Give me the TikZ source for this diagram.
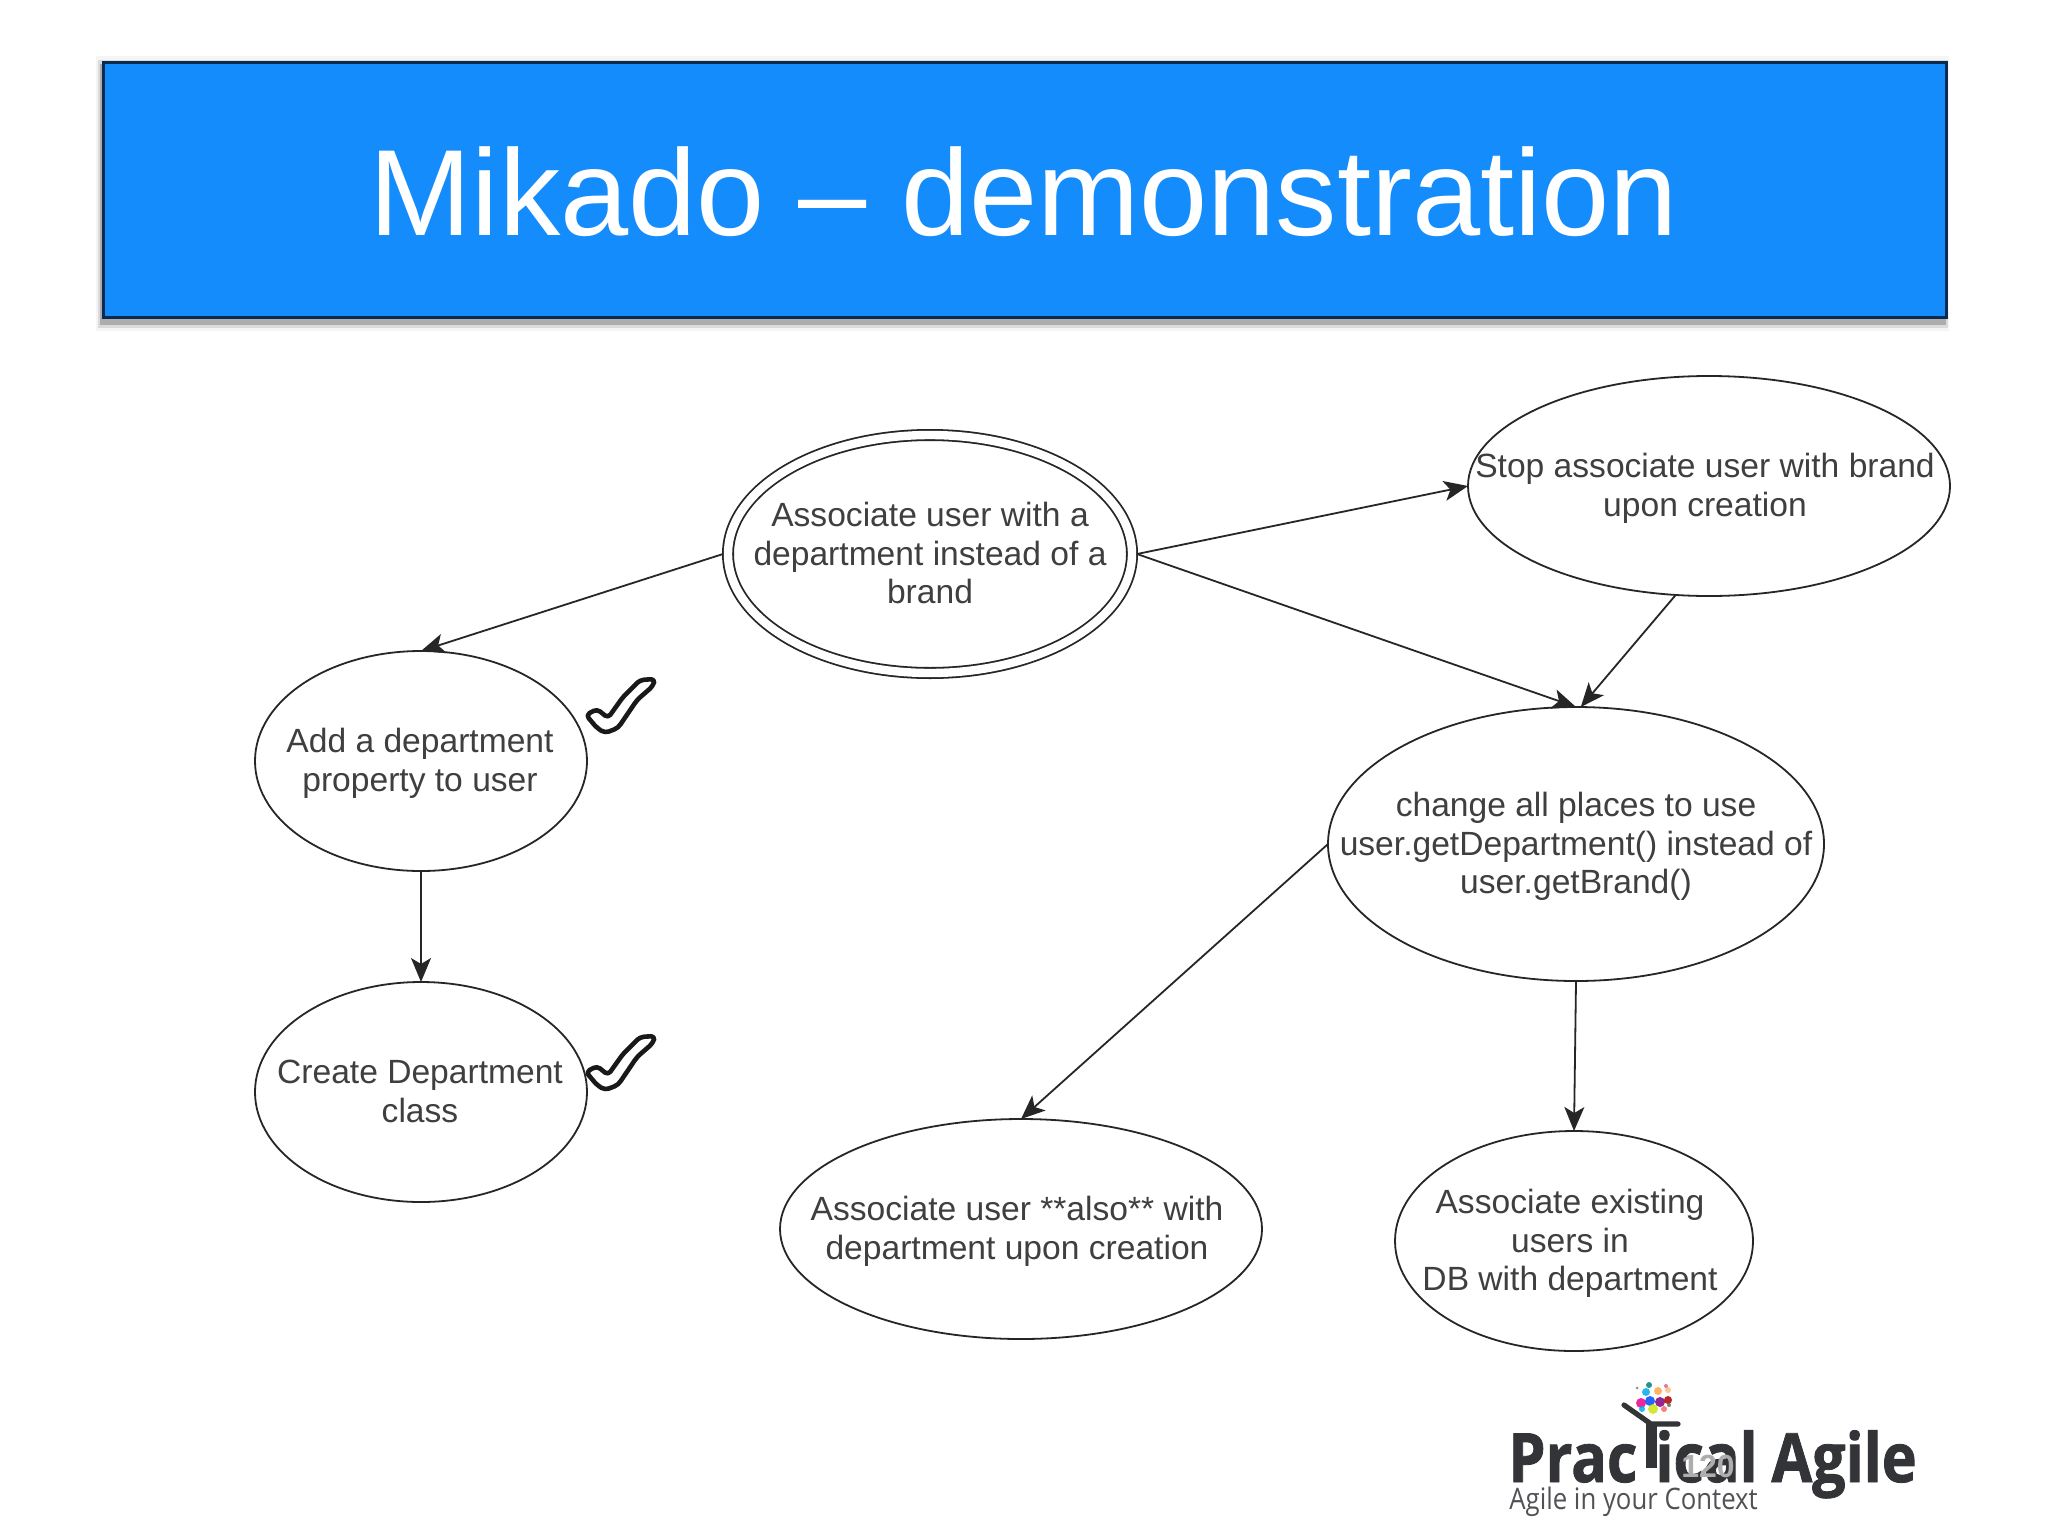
\documentclass[tikz,border=0pt]{standalone}
\usepackage{fontspec}
\setmainfont{Liberation Sans}
\newfontfamily\logofont[FakeStretch=0.87]{Open Sans}
\newfontfamily\logoheavy[FakeStretch=0.87,FakeBold=1.2]{Open Sans}
\usetikzlibrary{arrows.meta,shapes.geometric}
\newcommand{\elltext}[2][0pt]{\makebox[0pt]{\kern#1\smash{\raisebox{-6pt}{\begin{tabular}[c]{@{}c@{}}#2\end{tabular}}}}}
\newcommand{\chk}[1]{\draw[chkmark,shift={(#1)}] (586,715) -- (597,709) -- (608,718) -- (623,697) -- (640,680) -- (655,679) -- (653,686) -- (637,700) -- (618,728) -- (605,733) -- (597,728) -- cycle;}
\definecolor{titleblue}{HTML}{148CFB}
\definecolor{titleedge}{HTML}{0B2A4F}
\definecolor{inktext}{HTML}{3F3F3F}
\definecolor{logoink}{HTML}{333438}
\tikzset{
  x=0.5pt,y=-0.5pt,
  ell/.style={draw=black!85,shape=ellipse,line width=0.9pt,inner sep=0pt,outer sep=0pt,text=inktext,font=\fontsize{16.8}{19.3}\selectfont},
  link/.style={draw=black!85,line width=0.9pt,-{Stealth[length=12pt,width=10pt,inset=3pt]}},
  chkmark/.style={draw=black!90,line width=2.3pt,fill=white,line join=round,rounded corners=2pt},
  logobig/.style={anchor=base west,inner sep=0pt,text=logoink,font=\logoheavy\bfseries\fontsize{34}{34}\selectfont},
}
\begin{document}
\begin{tikzpicture}
\useasboundingbox (0,0) rectangle (2048,1536);
\fill[white] (0,0) rectangle (2048,1536);
% title shadow
\fill[black!4] (96,56) rectangle (1949,331);
\fill[black!14] (98,60) rectangle (1948,328);
\fill[black!32] (100,64) rectangle (1946,325);
\node[draw=titleedge,fill=titleblue,line width=1.4pt,inner sep=0pt,minimum width=921.5pt,minimum height=127.5pt,anchor=north west] (title) at (102,61) {};
\node[anchor=base,inner sep=0pt,text=white,font=\fontsize{61.3}{70}\selectfont] (titletext) at (1024,235) {Mikado – demonstration};
% ellipses
\node[ell,double,double distance=4.2pt,minimum width=202pt,minimum height=119pt,outer sep=2.5pt] (main) at (930,554) {\elltext{Associate user with a\\department instead of a\\brand}};
\node[ell,minimum width=241pt,minimum height=110pt] (stop) at (1709,486) {\elltext[-4pt]{Stop associate user with brand\\upon creation}};
\node[ell,minimum width=166pt,minimum height=110pt] (add) at (421,761) {\elltext[-1pt]{Add a department\\property to user}};
\node[ell,minimum width=166pt,minimum height=110pt] (create) at (421,1092) {\elltext[-1pt]{Create Department\\class}};
\node[ell,minimum width=248pt,minimum height=137pt] (change) at (1576,844) {\elltext{change all places to use\\user.getDepartment() instead of\\user.getBrand()}};
\node[ell,minimum width=241pt,minimum height=110pt] (also) at (1021,1229) {\elltext[-4pt]{Associate user **also** with\\department upon creation}};
\node[ell,minimum width=179pt,minimum height=110pt] (exist) at (1574,1241) {\elltext[-4pt]{Associate existing\\users in\\DB with department}};
% connectors
\draw[link] (main.west) -- (add.north);
\draw[link] (main.east) -- (stop.west);
\draw[link] (main.east) -- (change.north);
\draw[link] (stop.253) -- (change.88);
\draw[link] (add.south) -- (create.north);
\draw[link] (change.west) -- (also.north);
\draw[link] (change.south) -- (exist.north);
% check marks
\chk{0,0}
\chk{0,357}
% logo
\node[logobig] (prac) at (1508,1482) {Prac};
\node[logobig] (ical) at (1655,1482) {ical};
\node[logobig] (agile) at (1771,1482) {Agile};
\node[anchor=base west,inner sep=0pt,font=\logofont\fontsize{14.8}{16}\selectfont,text=logoink!85] (tag) at (1509,1509) {Agile in your Context};
\draw[logoink,line width=2.6pt,line cap=round,line join=round] (1624,1405) -- (1651,1424) -- (1678,1424);
\fill[logoink] (1646,1424) rectangle (1657,1468);
\foreach \px/\py/\pr/\pc in {1641/1403/5/magenta,1650/1401/5/blue!70!cyan,1660/1402/5/violet,1668/1400/4/red!70!black,1646/1392/4/cyan,1658/1391/4/orange!70,1668/1390/3/orange!50,1653/1409/5/yellow!80!green,1642/1409/3/cyan,1664/1409/3/red!60,1649/1385/3/teal,1666/1386/2/purple!60,1637/1388/1.5/gray,1669/1405/2/black!60}
  \fill[\pc,opacity=.85] (\px,\py) circle[radius=\pr];
% page number
\node[anchor=base,inner sep=0pt,text=black!32,font=\bfseries\fontsize{16}{16}\selectfont] (pagenum) at (1708,1477) {120};
\end{tikzpicture}
\end{document}
